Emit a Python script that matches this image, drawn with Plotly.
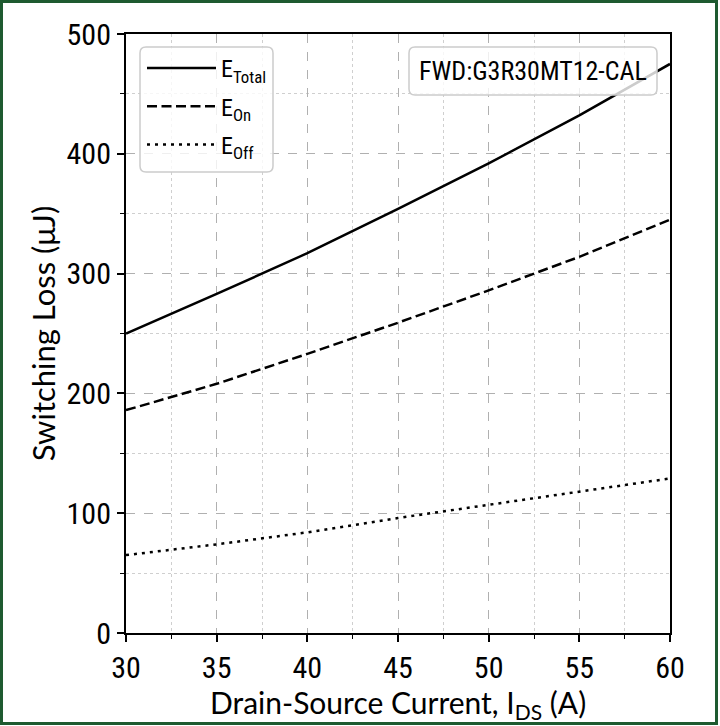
import plotly.graph_objects as go

current = [30, 35, 40, 45, 50, 55, 60]
e_total = [250, 283, 317, 354, 392, 432, 475]
e_on = [186, 208, 233, 259, 286, 314, 345]
e_off = [65, 74, 84, 96, 107, 118, 129]

W, H = 720, 726
L, R, T, B = 126, 50, 34, 93
PW, PH = W - L - R, H - T - B

def px(x):
    return (x - L) / PW

def py(y):
    return 1 - (y - T) / PH

COND = "Roboto Condensed, Liberation Sans Narrow, DejaVu Sans Condensed, sans-serif"
LATO = "Lato, Noto Sans, sans-serif"

fig = go.Figure()
fig.add_trace(go.Scatter(x=current, y=e_total, mode="lines", name="E<sub>Total</sub>",
                         line=dict(color="black", width=2.5), legendgroup="a"))
fig.add_trace(go.Scatter(x=current, y=e_on, mode="lines", name="E<sub>On</sub>",
                         line=dict(color="black", width=2.5, dash="10px,4.5px"), legendgroup="b"))
fig.add_trace(go.Scatter(x=current, y=e_off, mode="lines", name="E<sub>Off</sub>",
                         line=dict(color="black", width=2.5, dash="3px,5px"), legendgroup="c"))

def rounded(x0, y0, x1, y1, r=6):
    path = (f"M {px(x0+r)},{py(y0)} L {px(x1-r)},{py(y0)} "
            f"Q {px(x1)},{py(y0)} {px(x1)},{py(y0+r)} L {px(x1)},{py(y1-r)} "
            f"Q {px(x1)},{py(y1)} {px(x1-r)},{py(y1)} L {px(x0+r)},{py(y1)} "
            f"Q {px(x0)},{py(y1)} {px(x0)},{py(y1-r)} L {px(x0)},{py(y0+r)} "
            f"Q {px(x0)},{py(y0)} {px(x0+r)},{py(y0)} Z")
    return path

shapes = [
    dict(type="path", xref="paper", yref="paper", path=rounded(140, 47, 273, 172),
         line=dict(color="#cccccc", width=1.5), fillcolor="rgba(255,255,255,0.8)", layer="above"),
    dict(type="path", xref="paper", yref="paper", path=rounded(409, 47, 657, 95),
         line=dict(color="#cccccc", width=1.5), fillcolor="rgba(255,255,255,0.8)", layer="above"),
    dict(type="rect", xref="paper", yref="paper", x0=px(1.5), x1=px(716.5), y0=py(723.5), y1=py(1.5),
         line=dict(color="#1e5a30", width=3), fillcolor="rgba(0,0,0,0)", layer="above"),
]

fig.update_layout(
    width=W, height=H,
    margin=dict(l=L, r=R, t=T, b=B),
    paper_bgcolor="white", plot_bgcolor="white",
    shapes=shapes,
    showlegend=True,
    legend=dict(x=px(142), y=py(46), xanchor="left", yanchor="top",
                bgcolor="rgba(0,0,0,0)", borderwidth=0,
                font=dict(family=COND, size=24, color="black"),
                tracegroupgap=4, traceorder="grouped", itemwidth=69),
    annotations=[
        dict(x=px(533), y=py(71), xref="paper", yref="paper", showarrow=False,
             text="FWD:G3R30MT12-CAL", font=dict(family=COND, size=26, color="black"),
             xanchor="center", yanchor="middle"),
        dict(x=px(398), y=py(704), xref="paper", yref="paper", showarrow=False,
             text="Drain-Source Current, I<sub>DS</sub> (A)",
             font=dict(family=LATO, size=30, color="black"),
             xanchor="center", yanchor="middle"),
    ],
    xaxis=dict(range=[30, 60], dtick=5, tick0=30,
               showline=True, linecolor="black", linewidth=2, mirror=True,
               ticks="outside", ticklen=7, tickwidth=1.5, tickcolor="black",
               tickfont=dict(family=COND, size=30, color="black"),
               showgrid=True, gridcolor="#b0b0b0", gridwidth=1, griddash="dash",
               zeroline=False,
               minor=dict(dtick=2.5, tick0=30, showgrid=True, gridcolor="#cfcfcf", griddash="dot",
                          ticks="outside", ticklen=4, tickcolor="black", tickwidth=1)),
    yaxis=dict(range=[0, 500], dtick=100, tick0=0,
               showline=True, linecolor="black", linewidth=2, mirror=True,
               ticks="outside", ticklen=7, tickwidth=1.5, tickcolor="black",
               tickfont=dict(family=COND, size=30, color="black"),
               showgrid=True, gridcolor="#b0b0b0", gridwidth=1, griddash="dash",
               zeroline=False,
               minor=dict(dtick=50, tick0=0, showgrid=True, gridcolor="#cfcfcf", griddash="dot",
                          ticks="outside", ticklen=4, tickcolor="black", tickwidth=1),
               title=dict(text="Switching Loss (μJ)",
                          font=dict(family=LATO, size=31, color="black"), standoff=2)),
)

fig.write_html("out.html", config={"displayModeBar": False},
               post_script="document.body.style.margin='0';document.body.style.overflow='hidden';")
